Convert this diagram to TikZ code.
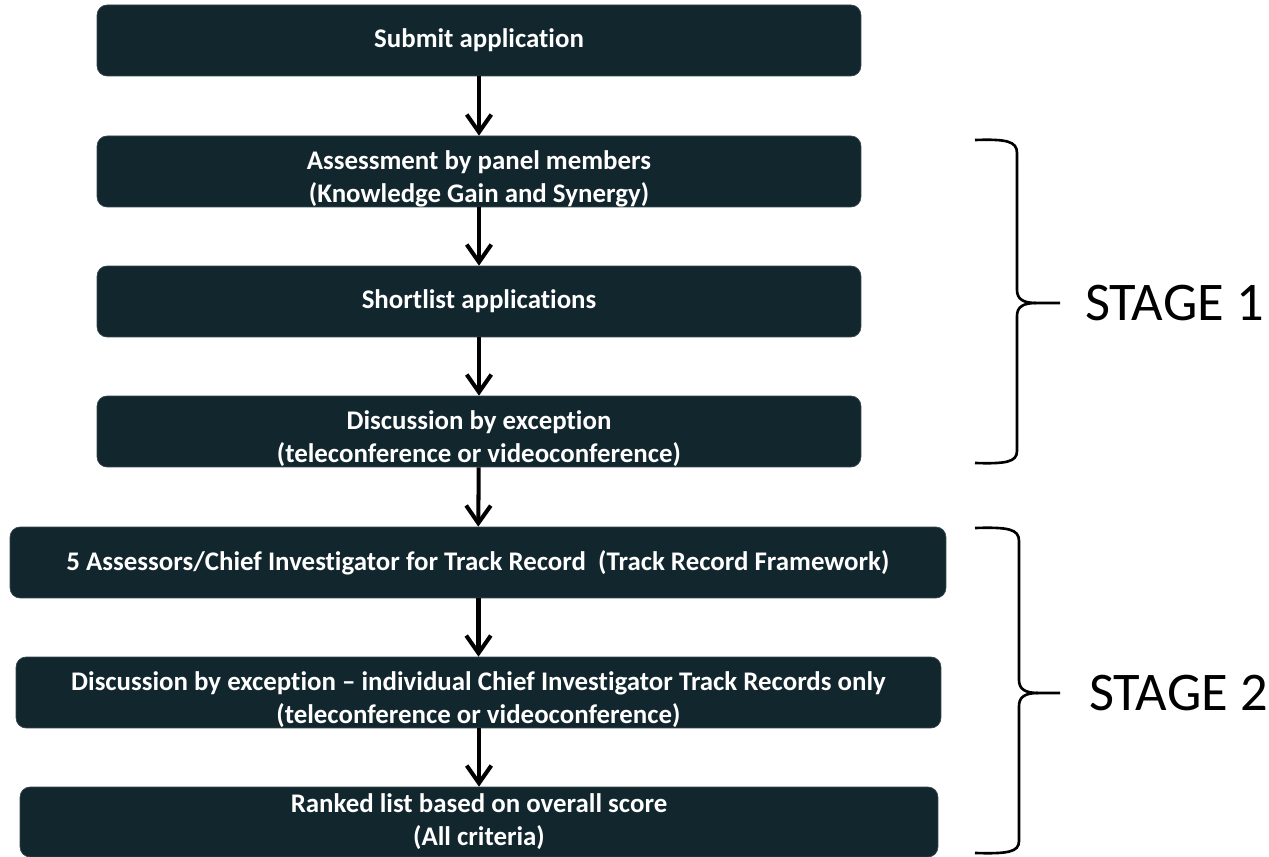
\documentclass[tikz,border=0pt]{standalone}
\usepackage{fontspec}
\setmainfont[Ligatures=NoCommon]{Carlito}
\usepackage{tikz}
\usetikzlibrary{arrows.meta}
\definecolor{stepfill}{HTML}{12262E}
\tikzset{
	node_step/.style = {
		rectangle,
		rounded corners=0.2cm,
		fill=stepfill,
		draw=stepfill!85!white,
		thin,
		text=white,
		align=center,
		inner sep=0pt,
		font=\fontsize{15.3}{18.7}\selectfont\bfseries,
		minimum height=1.42cm
	},
	node_wide/.style = {
		node_step,
		minimum width=15.28cm
	},
	node_stage/.style = {
		anchor=west,
		inner sep=0pt,
		font=\fontsize{31}{37}\selectfont
	},
	brace_line/.style = {
		-,
		line width=1.5pt,
		black
	},
}

\begin{document}
\begin{tikzpicture}[->,>={Straight Barb[length=10pt,width=14pt]}, line width=2.3pt, x=0.02cm, y=-0.02cm]
\useasboundingbox (0,0) rectangle (1269,857);
\node [node_wide] (submit) at (479,40.5) {Submit application};
\node [node_wide] (assess) at (479,171.5) {\rule{0pt}{19pt}Assessment by panel members\\(Knowledge Gain and Synergy)};
\node [node_wide] (shortlist) at (479,301.5) {Shortlist applications};
\node [node_wide] (discuss) at (479,431.5) {\rule{0pt}{19pt}Discussion by exception\\(teleconference or videoconference)};
\node [node_step, minimum width=18.72cm] (assessors) at (478,562.5) {5 Assessors/Chief Investigator for Track Record\ \ (Track Record Framework)};
\node [node_step, minimum width=18.5cm] (discuss_ci) at (478.5,692.5) {\rule{0pt}{19pt}Discussion by exception -- individual Chief Investigator Track Records only\\(teleconference or videoconference)};
\node [node_step, minimum width=18.36cm, minimum height=1.4cm] (ranked) at (479,822) {Ranked list based on overall score\\(All criteria)};

\draw (submit) -- (assess);
\draw (assess) -- (shortlist);
\draw (shortlist) -- (discuss);
\draw (discuss) -- (assessors);
\draw (assessors.south -| discuss_ci.north) -- (discuss_ci);
\draw (discuss_ci.south -| ranked.north) -- (ranked);

% stage 1
\draw [brace_line] (975,140) .. controls (1006,139) and (1017,141) .. (1017,153) -- (1017,290)
	.. controls (1017,299) and (1023,303) .. (1036,303) -- (1060,303);
\draw [brace_line] (1036,303) .. controls (1023,303) and (1017,307) .. (1017,316) -- (1017,451)
	.. controls (1017,462) and (1006,464) .. (975,463);
\node [node_stage] (stage_one) at (1083,303) {STAGE 1};

% stage 2
\draw [brace_line] (975,528) .. controls (1008,527) and (1019,529) .. (1019,541) -- (1019,680)
	.. controls (1019,689) and (1025,693) .. (1038,693) -- (1060,693);
\draw [brace_line] (1038,693) .. controls (1025,693) and (1019,697) .. (1019,706) -- (1019,841)
	.. controls (1019,852) and (1008,854) .. (975,853);
\node [node_stage] (stage_two) at (1087,693) {STAGE 2};
\end{tikzpicture}
\end{document}
